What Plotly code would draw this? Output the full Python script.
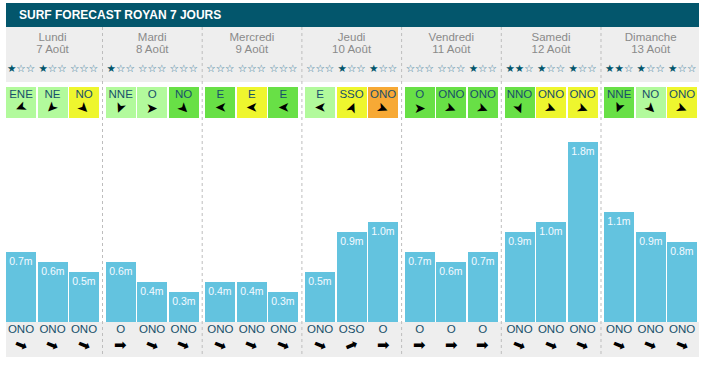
import plotly.graph_objects as go

# ---------------- data ----------------
days = ["Lundi", "Mardi", "Mercredi", "Jeudi", "Vendredi", "Samedi", "Dimanche"]
dates = ["7 Août", "8 Août", "9 Août", "10 Août", "11 Août", "12 Août", "13 Août"]
stars = [1, 1, 0, 1, 0, 0, 0, 0, 0, 0, 1, 1, 0, 0, 1, 2, 1, 1, 2, 1, 1]
wind_dir = ["ENE", "NE", "NO", "NNE", "O", "NO", "E", "E", "E", "E", "SSO", "ONO",
            "O", "ONO", "ONO", "NNO", "ONO", "ONO", "NNE", "NO", "ONO"]
wind_level = ["light", "light", "yellow", "light", "light", "green", "green", "yellow", "green",
              "light", "yellow", "orange", "green", "green", "green", "green", "yellow", "yellow",
              "green", "light", "yellow"]
wave_height = [0.7, 0.6, 0.5, 0.6, 0.4, 0.3, 0.4, 0.4, 0.3, 0.5, 0.9, 1.0,
               0.7, 0.6, 0.7, 0.9, 1.0, 1.8, 1.1, 0.9, 0.8]
swell_dir = ["ONO", "ONO", "ONO", "O", "ONO", "ONO", "ONO", "ONO", "ONO", "ONO", "OSO", "O",
             "O", "O", "O", "ONO", "ONO", "ONO", "ONO", "ONO", "ONO"]
title = "SURF FORECAST ROYAN 7 JOURS"

# ---------------- styles ----------------
bearing = {"N": 0, "NNE": 22.5, "NE": 45, "ENE": 67.5, "E": 90, "ESE": 112.5, "SE": 135,
           "SSE": 157.5, "S": 180, "SSO": 202.5, "SO": 225, "OSO": 247.5, "O": 270,
           "ONO": 292.5, "NO": 315, "NNO": 337.5}
level_color = {"light": "#B2FA9C", "green": "#68E046", "yellow": "#EEF62E", "orange": "#F7A935"}
TEAL = "#03566C"
TXT = "#17506A"
GRAY = "#EEEEEE"
BAR = "#63C3DF"
FONT = "Liberation Sans, Arial, sans-serif"

DAY_W = 99.7
X0 = 6
n = len(wave_height)
xc = [X0 + DAY_W * (i // 3) + 15 + 31.5 * (i % 3) for i in range(n)]
day_c = [X0 + DAY_W * d + 46.5 for d in range(len(days))]

fig = go.Figure()

# wave bars (meters axis)
fig.add_trace(go.Bar(
    x=xc, y=wave_height, width=30, marker=dict(color=BAR, line=dict(width=0)),
    text=[f"{v:.1f}m" for v in wave_height], textposition="inside",
    insidetextanchor="end", textangle=0, constraintext="none",
    textfont=dict(color="#F4FAFF", size=10.5, family=FONT),
    xaxis="x", yaxis="y", hoverinfo="skip", showlegend=False))

# wind boxes (pixel axis)
fig.add_trace(go.Bar(
    x=xc, y=[31] * n, base=[87] * n, width=30,
    marker=dict(color=[level_color[l] for l in wind_level], line=dict(width=0)),
    xaxis="x", yaxis="y2", hoverinfo="skip", showlegend=False))

fig.add_trace(go.Scatter(
    x=xc, y=[95.5] * n, mode="text", text=wind_dir,
    textfont=dict(color=TXT, size=11.5, family=FONT),
    xaxis="x", yaxis="y2", hoverinfo="skip", showlegend=False))

fig.add_trace(go.Scatter(
    x=xc, y=[330] * n, mode="text", text=swell_dir,
    textfont=dict(color=TXT, size=11.5, family=FONT),
    xaxis="x", yaxis="y2", hoverinfo="skip", showlegend=False))

# day names / dates
fig.add_trace(go.Scatter(
    x=day_c, y=[38] * len(days), mode="text", text=days,
    textfont=dict(color="#8A8A8A", size=11.5, family=FONT),
    xaxis="x", yaxis="y2", hoverinfo="skip", showlegend=False))
fig.add_trace(go.Scatter(
    x=day_c, y=[50] * len(days), mode="text", text=dates,
    textfont=dict(color="#8A8A8A", size=11.5, family=FONT),
    xaxis="x", yaxis="y2", hoverinfo="skip", showlegend=False))

# stars
star_txt = [f"<span style='color:{TEAL}'>" + "★" * s + "</span>"
            + f"<span style='color:#2F7595'>" + "☆" * (3 - s) + "</span>" for s in stars]
fig.add_trace(go.Scatter(
    x=xc, y=[69] * n, mode="text", text=star_txt,
    textfont=dict(color=TEAL, size=10.5, family="DejaVu Sans"),
    xaxis="x", yaxis="y2", hoverinfo="skip", showlegend=False))

shapes = [
    dict(type="rect", xref="x", yref="y2", x0=6, x1=699, y0=3, y1=27,
         fillcolor=TEAL, line_width=0, layer="below"),
    dict(type="rect", xref="x", yref="y2", x0=6, x1=699, y0=27, y1=82,
         fillcolor=GRAY, line_width=0, layer="below"),
    dict(type="rect", xref="x", yref="y2", x0=6, x1=699, y0=322, y1=357,
         fillcolor=GRAY, line_width=0, layer="below"),
]
for d in range(len(days) - 1):
    xs = X0 + DAY_W * d + 96.5
    shapes.append(dict(type="line", xref="x", yref="y2", x0=xs, x1=xs, y0=27, y1=357,
                       line=dict(color="#BDBDBD", width=1, dash="3px,3px"), layer="above"))

annotations = [dict(x=17, y=15, xref="x", yref="y2", text=f"<b>{title}</b>", showarrow=False,
                    xanchor="left", yanchor="middle",
                    font=dict(color="white", size=12, family=FONT))]
# wind arrows
for i in range(n):
    b = (bearing[wind_dir[i]] + 180) % 360
    annotations.append(dict(x=xc[i], y=108, xref="x", yref="y2", text="➤", showarrow=False,
                            textangle=b - 90, font=dict(color="black", size=14, family="DejaVu Sans")))
# swell arrows
for i in range(n):
    b = (bearing[swell_dir[i]] + 180) % 360
    annotations.append(dict(x=xc[i], y=345, xref="x", yref="y2", text="➡", showarrow=False,
                            textangle=b - 90, font=dict(color="black", size=15, family="DejaVu Sans")))

fig.update_layout(
    width=705, height=365, margin=dict(l=0, r=0, t=0, b=0),
    paper_bgcolor="white", plot_bgcolor="rgba(0,0,0,0)",
    xaxis=dict(range=[0, 705], visible=False, fixedrange=True, domain=[0, 1]),
    yaxis=dict(range=[0, 2.2], visible=False, fixedrange=True,
               domain=[43 / 365, 263 / 365], anchor="x"),
    yaxis2=dict(range=[365, 0], visible=False, fixedrange=True, domain=[0, 1], anchor="x"),
    bargap=0, shapes=shapes, annotations=annotations, showlegend=False,
)

fig.write_html("out.html", post_script="document.body.style.margin='0';",
               config={"displayModeBar": False})
